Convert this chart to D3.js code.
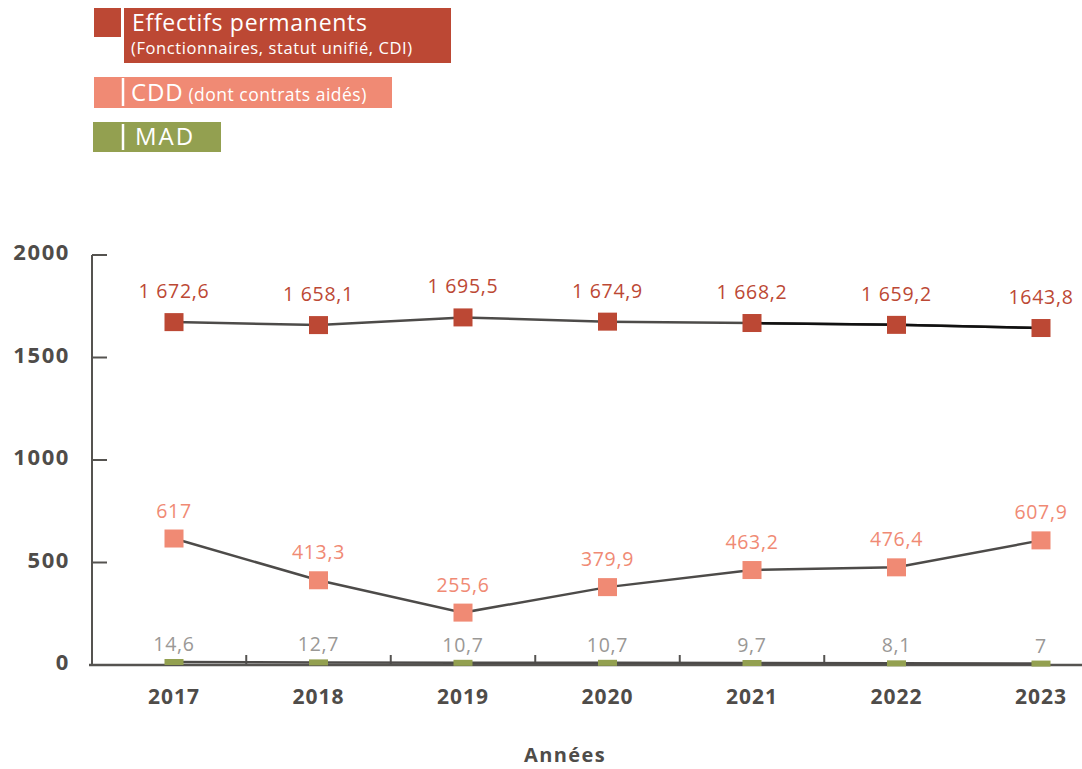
<!DOCTYPE html>
<html lang="fr">
<head>
<meta charset="utf-8">
<script src="https://cdn.jsdelivr.net/npm/d3@7"></script>
<style>
  html, body { margin: 0; padding: 0; background: #fff; }
  svg { display: block; font-family: "Open Sans", "Noto Sans", sans-serif; }
</style>
</head>
<body>
<div id="chart"></div>
<script>
const years = ["2017", "2018", "2019", "2020", "2021", "2022", "2023"];
const permanents = [1672.6, 1658.1, 1695.5, 1674.9, 1668.2, 1659.2, 1643.8];
const permanentsLabels = ["1 672,6", "1 658,1", "1 695,5", "1 674,9", "1 668,2", "1 659,2", "1643,8"];
const cdd = [617, 413.3, 255.6, 379.9, 463.2, 476.4, 607.9];
const cddLabels = ["617", "413,3", "255,6", "379,9", "463,2", "476,4", "607,9"];
const mad = [14.6, 12.7, 10.7, 10.7, 9.7, 8.1, 7];
const madLabels = ["14,6", "12,7", "10,7", "10,7", "9,7", "8,1", "7"];
const yTicks = [0, 500, 1000, 1500, 2000];

const width = 1082, height = 769;
const colPerm = "#bc4834", colCdd = "#f08a74", colMad = "#93a050";
const axisCol = "#555350";

const svg = d3.select("#chart").append("svg")
  .attr("width", width).attr("height", height)
  .attr("viewBox", `0 0 ${width} ${height}`);

const x = d3.scaleBand().domain(years).range([101.75, 1113.25]);
const y = d3.scaleLinear().domain([0, 2000]).range([665, 255]);
const cx = d => x(d) + x.bandwidth() / 2;

// legend
const legend = svg.append("g");
legend.append("rect").attr("x", 94).attr("y", 8).attr("width", 27).attr("height", 29).attr("fill", colPerm);
legend.append("rect").attr("x", 124).attr("y", 8).attr("width", 327).attr("height", 55).attr("fill", colPerm);
legend.append("text").attr("x", 132).attr("y", 31).attr("fill", "#fff").attr("font-size", 23)
  .attr("letter-spacing", 0.7).text("Effectifs permanents");
legend.append("text").attr("x", 131).attr("y", 54).attr("fill", "#fff").attr("font-size", 16.5)
  .attr("letter-spacing", 0.6).text("(Fonctionnaires, statut unifié, CDI)");

legend.append("rect").attr("x", 94).attr("y", 77).attr("width", 298).attr("height", 31).attr("fill", colCdd);
legend.append("line").attr("x1", 123).attr("x2", 123).attr("y1", 78).attr("y2", 106)
  .attr("stroke", "#fff").attr("stroke-width", 2.5);
const cddText = legend.append("text").attr("x", 131).attr("y", 101).attr("fill", "#fff");
cddText.append("tspan").attr("font-size", 24).attr("letter-spacing", 0.8).text("CDD");
cddText.append("tspan").attr("font-size", 17.5).attr("letter-spacing", 0.5).text(" (dont contrats aidés)");

legend.append("rect").attr("x", 93).attr("y", 122).attr("width", 128).attr("height", 30).attr("fill", colMad);
legend.append("line").attr("x1", 123).attr("x2", 123).attr("y1", 124).attr("y2", 150)
  .attr("stroke", "#fff").attr("stroke-width", 2.5);
legend.append("text").attr("x", 135).attr("y", 145).attr("fill", "#fff").attr("font-size", 24)
  .attr("letter-spacing", 2).text("MAD");

// y axis
const yAxis = svg.append("g");
yAxis.append("line").attr("x1", 92).attr("x2", 92).attr("y1", y(2000)).attr("y2", y(0) + 1)
  .attr("stroke", axisCol).attr("stroke-width", 2);
yAxis.selectAll("line.tick").data(yTicks.filter(d => d > 0)).join("line").attr("class", "tick")
  .attr("x1", 92).attr("x2", 107).attr("y1", d => y(d)).attr("y2", d => y(d))
  .attr("stroke", axisCol).attr("stroke-width", 2);
yAxis.selectAll("text").data(yTicks).join("text")
  .attr("x", 70).attr("y", d => y(d) + 5).attr("text-anchor", "end")
  .attr("font-size", 22).attr("font-weight", 700).attr("letter-spacing", 1.6).attr("fill", "#4f4c49")
  .text(d => d);

// x axis
const xAxis = svg.append("g");
xAxis.append("line").attr("x1", 89).attr("x2", 1082).attr("y1", y(0)).attr("y2", y(0))
  .attr("stroke", axisCol).attr("stroke-width", 2.5);
xAxis.selectAll("line.tick").data(years.slice(1, 6)).join("line").attr("class", "tick")
  .attr("x1", d => x(d)).attr("x2", d => x(d)).attr("y1", y(0) - 10).attr("y2", y(0))
  .attr("stroke", axisCol).attr("stroke-width", 2);
xAxis.selectAll("text").data(years).join("text")
  .attr("x", cx).attr("y", 704).attr("text-anchor", "middle")
  .attr("font-size", 21).attr("font-weight", 700).attr("letter-spacing", 1).attr("fill", "#4f4c49")
  .text(d => d);
svg.append("text").attr("x", 565).attr("y", 762).attr("text-anchor", "middle")
  .attr("font-size", 20).attr("font-weight", 700).attr("letter-spacing", 1.4).attr("fill", "#4f4c49")
  .text("Années");

const line = d3.line().x((d, i) => cx(years[i])).y(d => y(d));

function series(values, labels, color, labelColor, markH, labelOffset, lineCol) {
  const g = svg.append("g");
  g.append("path").attr("d", line(values)).attr("fill", "none")
    .attr("stroke", lineCol).attr("stroke-width", 2.5);
  g.selectAll("rect").data(values).join("rect")
    .attr("x", (d, i) => cx(years[i]) - 9.5).attr("y", d => y(d) - markH / 2)
    .attr("width", 19).attr("height", markH).attr("fill", color);
  g.selectAll("text").data(values).join("text")
    .attr("x", (d, i) => cx(years[i])).attr("y", d => y(d) - labelOffset)
    .attr("text-anchor", "middle").attr("font-size", 19.5).attr("letter-spacing", 0.7)
    .attr("fill", labelColor)
    .text((d, i) => labels[i]);
  return g;
}

series(mad, madLabels, colMad, "#9a9896", 6, 11, "#4d4b49");
series(cdd, cddLabels, colCdd, colCdd, 18, 21, "#4d4b49");
const gp = series(permanents, permanentsLabels, colPerm, colPerm, 18, 24, "#4d4b49");
// darker end segment of the permanent staff line
gp.insert("path", "rect")
  .attr("d", d3.line().x((d, i) => cx(years[i + 4])).y(d => y(d))(permanents.slice(4)))
  .attr("fill", "none").attr("stroke", "#111").attr("stroke-width", 2.5);
</script>
</body>
</html>
